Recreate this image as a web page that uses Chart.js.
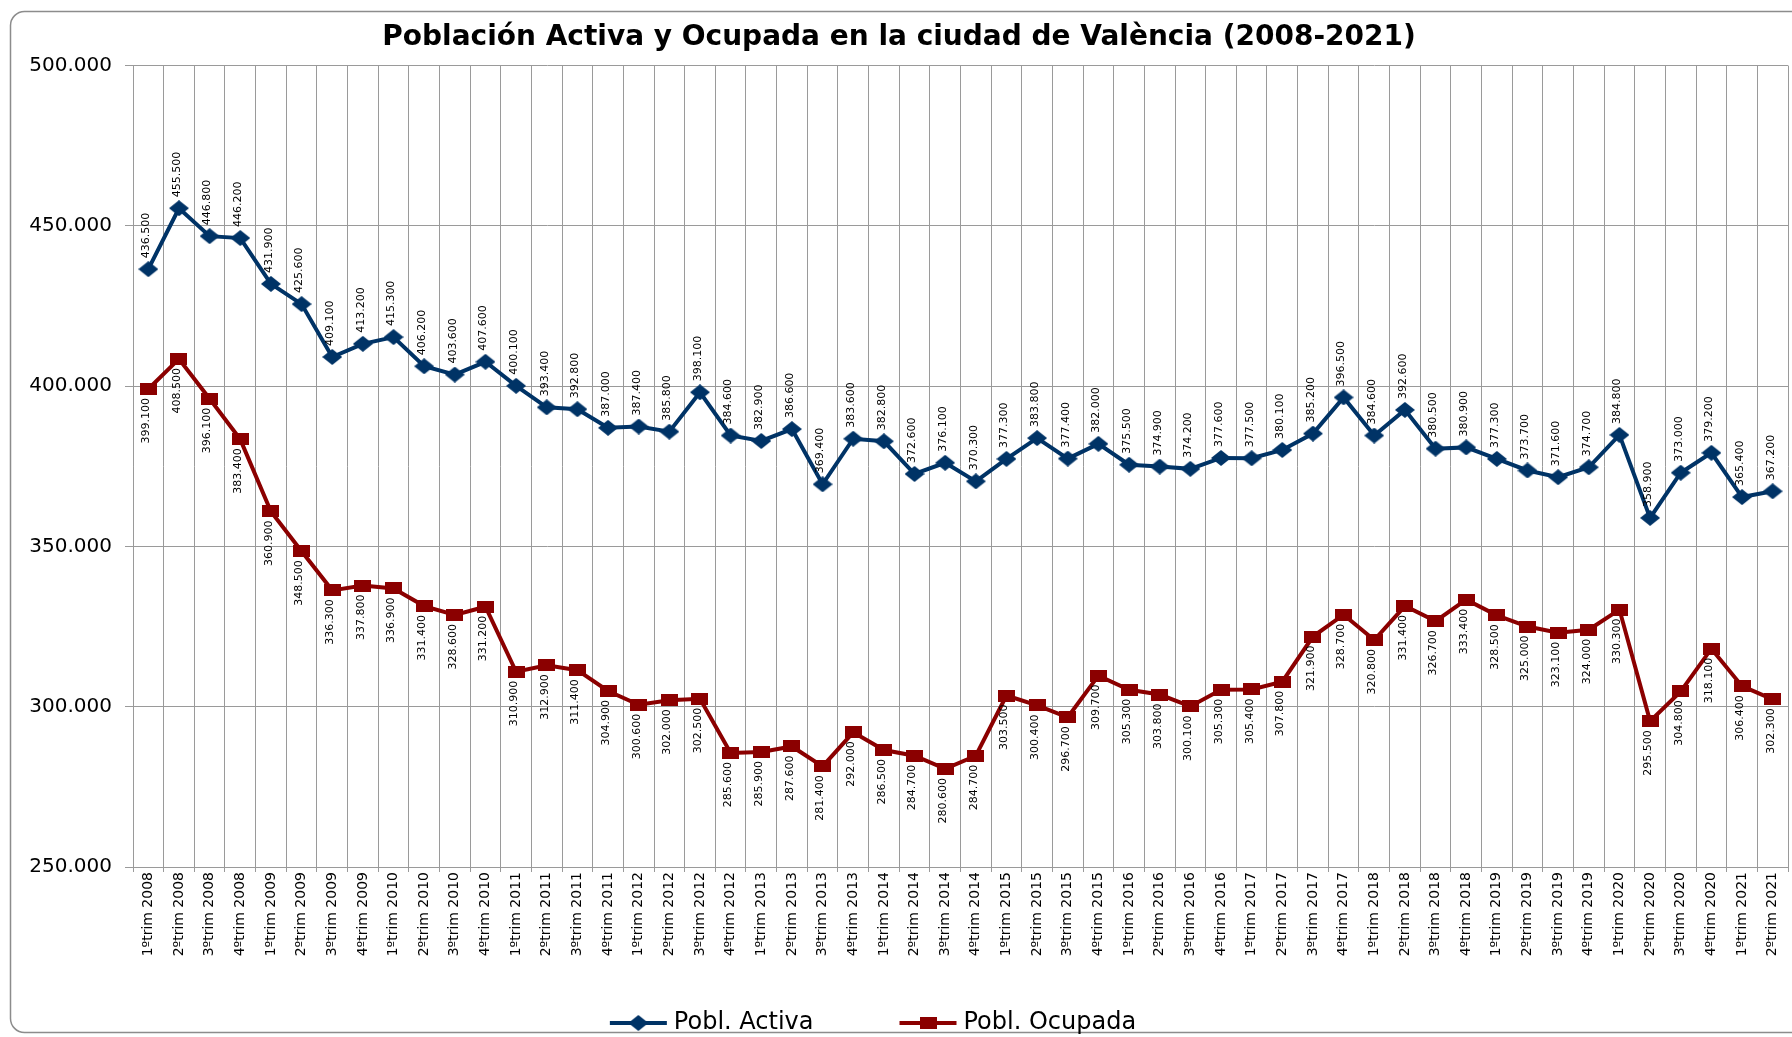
<!DOCTYPE html>
<html>
<head>
<meta charset="utf-8">
<script src="https://cdn.jsdelivr.net/npm/chart.js@4.4.1/dist/chart.umd.min.js"></script>
<style>
  html, body { margin: 0; padding: 0; background: #fff; overflow: hidden; }
  #wrap { width: 1800px; height: 1037px; }
</style>
</head>
<body>
<div id="wrap"><canvas id="myChart" width="1800" height="1037"></canvas></div>
<script>
// quarters shown on the x axis
const quarters = [
  '1ºtrim 2008', '2ºtrim 2008', '3ºtrim 2008', '4ºtrim 2008',
  '1ºtrim 2009', '2ºtrim 2009', '3ºtrim 2009', '4ºtrim 2009',
  '1ºtrim 2010', '2ºtrim 2010', '3ºtrim 2010', '4ºtrim 2010',
  '1ºtrim 2011', '2ºtrim 2011', '3ºtrim 2011', '4ºtrim 2011',
  '1ºtrim 2012', '2ºtrim 2012', '3ºtrim 2012', '4ºtrim 2012',
  '1ºtrim 2013', '2ºtrim 2013', '3ºtrim 2013', '4ºtrim 2013',
  '1ºtrim 2014', '2ºtrim 2014', '3ºtrim 2014', '4ºtrim 2014',
  '1ºtrim 2015', '2ºtrim 2015', '3ºtrim 2015', '4ºtrim 2015',
  '1ºtrim 2016', '2ºtrim 2016', '3ºtrim 2016', '4ºtrim 2016',
  '1ºtrim 2017', '2ºtrim 2017', '3ºtrim 2017', '4ºtrim 2017',
  '1ºtrim 2018', '2ºtrim 2018', '3ºtrim 2018', '4ºtrim 2018',
  '1ºtrim 2019', '2ºtrim 2019', '3ºtrim 2019', '4ºtrim 2019',
  '1ºtrim 2020', '2ºtrim 2020', '3ºtrim 2020', '4ºtrim 2020',
  '1ºtrim 2021', '2ºtrim 2021'
];

const activa = [
  436500, 455500, 446800, 446200, 431900, 425600, 409100, 413200,
  415300, 406200, 403600, 407600, 400100, 393400, 392800, 387000,
  387400, 385800, 398100, 384600, 382900, 386600, 369400, 383600,
  382800, 372600, 376100, 370300, 377300, 383800, 377400, 382000,
  375500, 374900, 374200, 377600, 377500, 380100, 385200, 396500,
  384600, 392600, 380500, 380900, 377300, 373700, 371600, 374700,
  384800, 358900, 373000, 379200, 365400, 367200
];

const ocupada = [
  399100, 408500, 396100, 383400, 360900, 348500, 336300, 337800,
  336900, 331400, 328600, 331200, 310900, 312900, 311400, 304900,
  300600, 302000, 302500, 285600, 285900, 287600, 281400, 292000,
  286500, 284700, 280600, 284700, 303500, 300400, 296700, 309700,
  305300, 303800, 300100, 305300, 305400, 307800, 321900, 328700,
  320800, 331400, 326700, 333400, 328500, 325000, 323100, 324000,
  330300, 295500, 304800, 318100, 306400, 302300
];

const y_ticks = [250000, 300000, 350000, 400000, 450000, 500000];

const blue = '#003366';
const red = '#8b0000';

function fmt(v){
  return String(Math.round(v)).replace(/\B(?=(\d{3})+(?!\d))/g, '.');
}

// markers look wider than tall in the original, so build them as small canvases
function diamond(w, h, color){
  var c = document.createElement('canvas');
  c.width = w; c.height = h;
  var g = c.getContext('2d');
  g.fillStyle = color;
  g.beginPath();
  g.moveTo(w/2, 0); g.lineTo(w, h/2); g.lineTo(w/2, h); g.lineTo(0, h/2);
  g.closePath(); g.fill();
  return c;
}
function square(w, h, color){
  var c = document.createElement('canvas');
  c.width = w; c.height = h;
  var g = c.getContext('2d');
  g.fillStyle = color;
  g.fillRect(0, 0, w, h);
  return c;
}

const diamondMark = diamond(20, 16, blue);
const squareMark = square(17, 12, red);

// grey rounded frame round the whole chart
const framePlugin = {
  id: 'frame',
  beforeDraw(chart){
    const ctx = chart.ctx;
    ctx.save();
    ctx.fillStyle = '#fff';
    ctx.fillRect(0, 0, chart.width, chart.height);
    ctx.strokeStyle = '#8c8c8c';
    ctx.lineWidth = 1.5;
    ctx.beginPath();
    ctx.roundRect(10.5, 11.5, 1800, 1021, 14);
    ctx.stroke();
    ctx.restore();
  }
};

// vertical value labels: above the blue points, below the red ones
const valueLabels = {
  id: 'valueLabels',
  afterDatasetsDraw(chart){
    const ctx = chart.ctx;
    ctx.save();
    ctx.font = '11px "DejaVu Sans"';
    ctx.fillStyle = '#000';
    ctx.textBaseline = 'middle';
    chart.data.datasets.forEach(function(ds, di){
      var meta = chart.getDatasetMeta(di);
      meta.data.forEach(function(pt, i){
        ctx.save();
        if (di === 0) {
          ctx.translate(pt.x - 2, pt.y - 11);
          ctx.rotate(-Math.PI/2);
          ctx.textAlign = 'left';
        } else {
          ctx.translate(pt.x - 2, pt.y + 9);
          ctx.rotate(-Math.PI/2);
          ctx.textAlign = 'right';
        }
        ctx.fillText(fmt(ds.data[i]), 0, 0);
        ctx.restore();
      });
    });
    ctx.restore();
  }
};

// legend with line + marker like the original
const lineLegend = {
  id: 'lineLegend',
  afterDraw(chart){
    const ctx = chart.ctx;
    const y = 1023;
    const lineLen = 57, gap = 7, itemGap = 86;
    ctx.save();
    ctx.font = '24px "DejaVu Sans"';
    const items = chart.data.datasets.map(function(ds){
      return {text: ds.label, color: ds.borderColor, mark: ds.pointStyle, w: ctx.measureText(ds.label).width};
    });
    var total = 0;
    items.forEach(function(it, i){ total += lineLen + gap + it.w + (i ? itemGap : 0); });
    var x = 873 - total/2;
    items.forEach(function(it){
      ctx.strokeStyle = it.color;
      ctx.lineWidth = 4;
      ctx.beginPath();
      ctx.moveTo(x, y); ctx.lineTo(x + lineLen, y);
      ctx.stroke();
      ctx.drawImage(it.mark, x + lineLen/2 - it.mark.width/2, y - it.mark.height/2);
      ctx.fillStyle = '#000';
      ctx.textAlign = 'left';
      ctx.textBaseline = 'middle';
      ctx.fillText(it.text, x + lineLen + gap, y);
      x += lineLen + gap + it.w + itemGap;
    });
    ctx.restore();
  }
};

const data = {
  labels: quarters,
  datasets: [{
    label: 'Pobl. Activa',
    data: activa,
    borderColor: blue,
    backgroundColor: blue,
    borderWidth: 4,
    pointStyle: diamondMark,
    pointRadius: 8,
    tension: 0
  }, {
    label: 'Pobl. Ocupada',
    data: ocupada,
    borderColor: red,
    backgroundColor: red,
    borderWidth: 4,
    pointStyle: squareMark,
    pointRadius: 8,
    tension: 0
  }]
};

const config = {
  type: 'line',
  data: data,
  options: {
    responsive: false,
    animation: false,
    layout: { padding: { left: 0, right: 2, top: 0, bottom: 29 } },
    plugins: {
      legend: { display: false },
      tooltip: { enabled: false },
      title: {
        display: true,
        text: 'Población Activa y Ocupada en la ciudad de València (2008-2021)',
        color: '#000',
        font: { family: '"DejaVu Sans"', size: 28, weight: 'bold', lineHeight: 1.2 },
        padding: { top: 21, bottom: 11 }
      }
    },
    scales: {
      x: {
        offset: true,
        grid: { offset: true, color: '#9a9a9a', lineWidth: 1, tickLength: 5, drawTicks: true },
        border: { color: '#9a9a9a' },
        ticks: {
          autoSkip: false,
          minRotation: 90,
          maxRotation: 90,
          padding: 0,
          color: '#000',
          font: { family: '"DejaVu Sans"', size: 14 }
        },
        afterFit(scale){ scale.height = 141; }
      },
      y: {
        min: 250000,
        max: 500000,
        afterBuildTicks(scale){ scale.ticks = y_ticks.map(function(v){ return {value: v}; }); },
        grid: { color: '#9a9a9a', lineWidth: 1, tickLength: 8 },
        border: { color: '#9a9a9a' },
        ticks: {
          padding: 13,
          color: '#000',
          font: { family: '"DejaVu Sans"', size: 20 },
          callback: function(v){ return fmt(v); }
        },
        afterFit(scale){ scale.width = 133; }
      }
    }
  },
  plugins: [framePlugin, valueLabels, lineLegend]
};

const my_canva = document.getElementById('myChart');
const chart = new Chart(my_canva, config);
</script>
</body>
</html>
